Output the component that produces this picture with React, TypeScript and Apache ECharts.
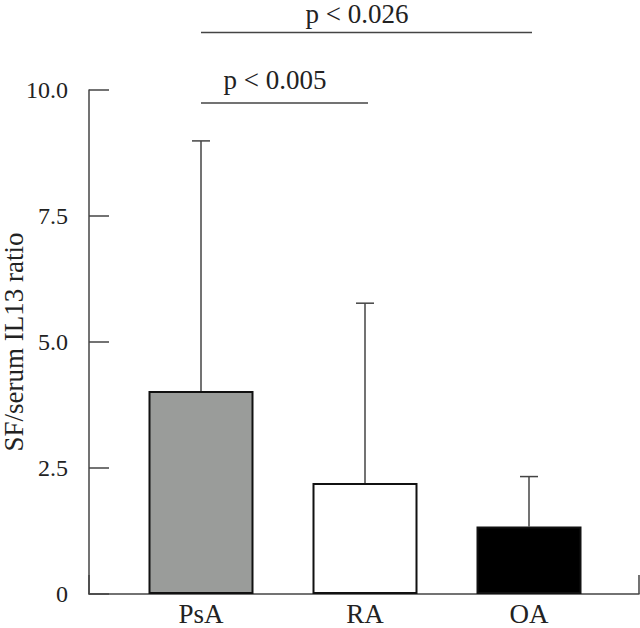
import React, { useEffect, useRef } from "react";
import * as echarts from "echarts";

const categories = ["PsA", "RA", "OA"];
const means = [4.03, 2.2, 1.34];
const upperErr = [8.99, 5.77, 2.33];
const barColors = ["#9a9c9a", "#ffffff", "#000000"];
const yTicks = [0, 2.5, 5, 7.5, 10];
// significance brackets: [fromIndex, toIndex, yLevel, label]
const brackets: [number, number, number, string][] = [
  [0, 2, 11.14, "p < 0.026"],
  [0, 1, 9.74, "p < 0.005"],
];

const FONT = "'Liberation Serif', 'Times New Roman', serif";
const INK = "#222222";
const AXIS = "#444444";

export default function App() {
  const ref = useRef<HTMLDivElement>(null);
  useEffect(() => {
    if (!ref.current) return;
    const chart = echarts.init(ref.current, null, { renderer: "svg" });
    const option: any = {
      animation: false,
      backgroundColor: "#ffffff",
      grid: [
        { left: 89, right: 1, top: 90, bottom: 34, outerBoundsMode: "none", containLabel: false },
        { left: 119, right: 29, top: 90, bottom: 34, outerBoundsMode: "none", containLabel: false },
      ],
      xAxis: [
        {
          gridIndex: 0,
          type: "value",
          min: 0,
          max: 1,
          interval: 1,
          axisLine: { show: true, lineStyle: { color: AXIS, width: 1.5 } },
          axisTick: { show: true, inside: true, length: 19, lineStyle: { color: AXIS, width: 1.5 } },
          axisLabel: { show: false },
          splitLine: { show: false },
        },
        {
          gridIndex: 1,
          type: "category",
          data: categories,
          axisLine: { show: false },
          axisTick: { show: false },
          axisLabel: { show: true, margin: 6, fontFamily: FONT, fontSize: 27, color: INK },
        },
      ],
      yAxis: [
        {
          gridIndex: 0,
          type: "value",
          min: yTicks[0],
          max: yTicks[yTicks.length - 1],
          interval: 2.5,
          name: "SF/serum IL13 ratio",
          nameLocation: "middle",
          nameGap: 62,
          nameMoveOverlap: false,
          nameTextStyle: { fontFamily: FONT, fontSize: 27, color: INK },
          axisLine: { show: true, lineStyle: { color: AXIS, width: 1.5 } },
          axisTick: { show: true, inside: true, length: 20, lineStyle: { color: AXIS, width: 1.5 } },
          axisLabel: {
            margin: 21,
            fontFamily: FONT,
            fontSize: 24,
            color: INK,
            formatter: (v: number) => (v === 0 ? "0" : v.toFixed(1)),
          },
          splitLine: { show: false },
        },
        {
          gridIndex: 1,
          type: "value",
          min: yTicks[0],
          max: yTicks[yTicks.length - 1],
          show: false,
        },
      ],
      series: [
        {
          type: "bar",
          xAxisIndex: 1,
          yAxisIndex: 1,
          barWidth: 105,
          data: means.map((v, i) => ({
            value: v,
            itemStyle: { color: barColors[i], borderColor: "#111111", borderWidth: 2 },
          })),
        },
        {
          type: "custom",
          xAxisIndex: 1,
          yAxisIndex: 1,
          clip: false,
          data: means.map((m, i) => [i, m, upperErr[i]]),
          renderItem: (params: any, api: any) => {
            const i = api.value(0);
            const p0 = api.coord([i, api.value(1)]);
            const p1 = api.coord([i, api.value(2)]);
            const hw = 9;
            const st = { stroke: AXIS, lineWidth: 1.5 };
            return {
              type: "group",
              children: [
                { type: "line", shape: { x1: p0[0], y1: p0[1], x2: p1[0], y2: p1[1] }, style: st },
                { type: "line", shape: { x1: p1[0] - hw, y1: p1[1], x2: p1[0] + hw, y2: p1[1] }, style: st },
              ],
            };
          },
          z: 1,
        },
        {
          type: "custom",
          xAxisIndex: 1,
          yAxisIndex: 1,
          clip: false,
          data: brackets.map((b) => [b[0], b[1], b[2], b[3]]),
          renderItem: (params: any, api: any) => {
            const a = api.coord([api.value(0), api.value(2)]);
            const b = api.coord([api.value(1), api.value(2)]);
            const label = brackets[params.dataIndex][3];
            return {
              type: "group",
              children: [
                {
                  type: "line",
                  shape: { x1: a[0], y1: a[1], x2: b[0] + 3, y2: b[1] },
                  style: { stroke: AXIS, lineWidth: 1.5 },
                },
                {
                  type: "text",
                  x: (a[0] + b[0]) / 2 - 8,
                  y: Math.max(0, a[1] - 37),
                  style: {
                    text: label,
                    fontFamily: FONT,
                    fontSize: 27,
                    fill: INK,
                    align: "center",
                    verticalAlign: "top",
                  },
                },
              ],
            };
          },
        },
      ],
    };
    chart.setOption(option);
    return () => chart.dispose();
  }, []);
  return (
    <div
      ref={ref}
      style={{ position: "fixed", left: 0, top: 0, width: 640, height: 628, background: "#fff" }}
    />
  );
}
